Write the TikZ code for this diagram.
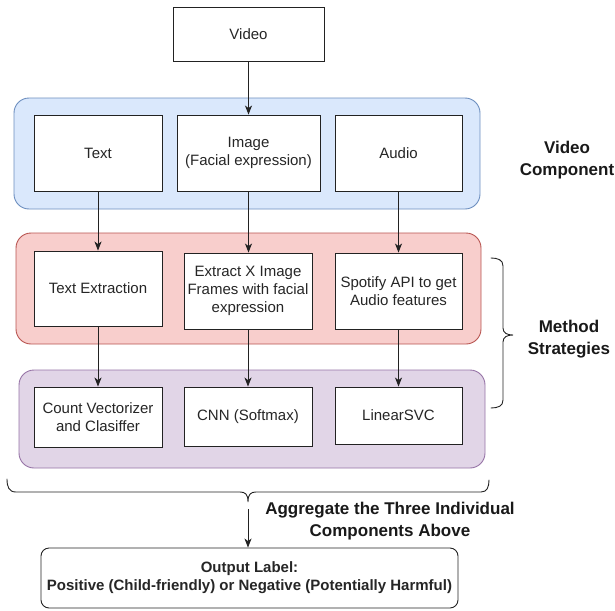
\documentclass[tikz,border=0pt]{standalone}
\usepackage{fontspec}
\setmainfont{Liberation Sans}
\usetikzlibrary{arrows.meta}
\definecolor{bluefill}{HTML}{DAE8FC}
\definecolor{bluestroke}{HTML}{6C8EBF}
\definecolor{redfill}{HTML}{F8CECC}
\definecolor{redstroke}{HTML}{B85450}
\definecolor{purplefill}{HTML}{E1D5E7}
\definecolor{purplestroke}{HTML}{9673A6}
\definecolor{linecol}{HTML}{222222}
\tikzset{
  box/.style={draw=linecol, fill=white, line width=0.9pt, align=center, inner sep=0pt,
    font=\fontsize{15}{18}\selectfont, text=black!85},
  container/.style={rounded corners=15pt, line width=0.9pt, inner sep=0pt},
  title/.style={align=center, font=\fontsize{17}{22}\selectfont\bfseries, text=black!90},
  conn/.style={draw=linecol, line width=0.9pt, -{Stealth[length=9pt,width=7pt,inset=2.5pt]}},
  bracecol/.style={draw=linecol, line width=0.9pt, line cap=round}
}
\begin{document}
\begin{tikzpicture}[x=1pt,y=-1pt]
\useasboundingbox (0,0) rectangle (615,610);
% containers
\node[container, draw=bluestroke, fill=bluefill, minimum width=466pt, minimum height=111pt] (blue) at (247,153.5) {};
\node[container, draw=redstroke, fill=redfill, minimum width=465pt, minimum height=111pt] (red) at (248.5,288.5) {};
\node[container, draw=purplestroke, fill=purplefill, minimum width=466pt, minimum height=98pt] (purple) at (252,419) {};
% boxes
\node[box, minimum width=151pt, minimum height=54pt] (video) at (248.5,34) {Video};
\node[box, minimum width=128pt, minimum height=76pt] (text) at (98,153) {Text};
\node[box, minimum width=143pt, minimum height=76pt] (image) at (248.5,153) {Image\\(Facial expression)};
\node[box, minimum width=127pt, minimum height=76pt] (audio) at (398.5,153) {Audio};
\node[box, minimum width=128pt, minimum height=75pt] (textext) at (98,288.5) {Text Extraction};
\node[box, minimum width=128pt, minimum height=76pt] (extract) at (248,291) {Extract X Image\\Frames with facial\\expression};
\node[box, minimum width=127pt, minimum height=76pt] (spotify) at (398.5,291) {Spotify API to get\\Audio features};
\node[box, minimum width=128pt, minimum height=60pt] (count) at (98,417) {Count Vectorizer\\and Clasiffer};
\node[box, minimum width=128pt, minimum height=59pt] (cnn) at (248,416.5) {CNN (Softmax)};
\node[box, minimum width=127pt, minimum height=57pt] (linear) at (398.5,415.5) {LinearSVC};
\node[box, rounded corners=8pt, minimum width=417pt, minimum height=60pt,
  font=\fontsize{15}{18}\selectfont\bfseries] (output) at (249.5,578)
  {Output Label:\\Positive (Child-friendly) or Negative (Potentially Harmful)};
% titles
\node[title] (vidcomp) at (567,160) {Video\\Component};
\node[title] (method) at (569,339) {Method\\Strategies};
\node[title] (aggr) at (390,521.5) {Aggregate the Three Individual\\Components Above};
% connectors
\draw[conn] (video.south) -- (video.south |- image.north);
\draw[conn] (text.south) -- (textext.north);
\draw[conn] (image.south) -- (image.south |- extract.north);
\draw[conn] (audio.south) -- (audio.south |- spotify.north);
\draw[conn] (textext.south) -- (count.north);
\draw[conn] (extract.south) -- (cnn.north);
\draw[conn] (spotify.south) -- (spotify.south |- linear.north);
% right brace
\draw[bracecol] (491,258) .. controls (498,258) and (503,260) .. (503,266)
  -- (503,328) .. controls (503,333) and (507,335) .. (513,335)
  .. controls (507,335) and (503,337) .. (503,342)
  -- (503,400) .. controls (503,406) and (498,408) .. (491,408);
% bottom brace
\draw[bracecol] (7,479) .. controls (7,487) and (9,492) .. (16,492)
  -- (240,492) .. controls (245,492) and (248,494) .. (248,502)
  .. controls (248,494) and (251,492) .. (256,492)
  -- (481,492) .. controls (487,492) and (489,487) .. (489,480);
\coordinate (aggstart) at (248,509);
\draw[conn] (aggstart) -- (aggstart |- output.north);
\end{tikzpicture}
\end{document}
